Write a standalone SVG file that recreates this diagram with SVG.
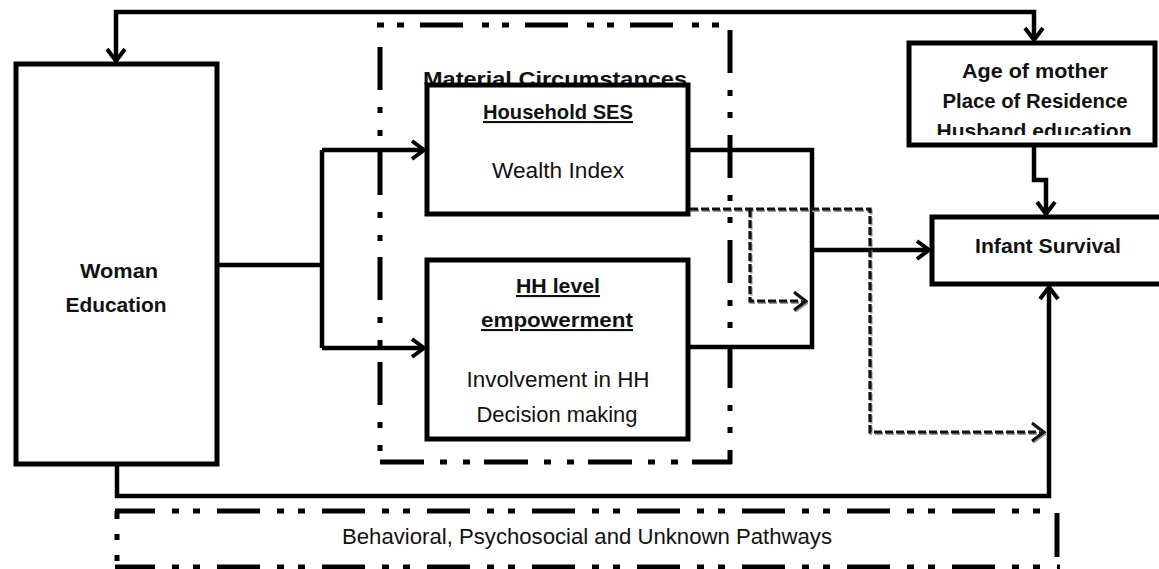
<svg xmlns="http://www.w3.org/2000/svg" width="1159" height="569" viewBox="0 0 1159 569">
<defs>
<style>
.box{fill:#fff;stroke:#000;stroke-width:5}
.dd{fill:none;stroke:#000;stroke-width:5}
.ln{fill:none;stroke:#000;stroke-width:4.5}
.dsh{fill:none;stroke:#111;stroke-width:3.2;stroke-dasharray:8 3}
.dshs{fill:none;stroke:#9a9a9a;stroke-width:3.2;stroke-dasharray:8 3}
.b{font-family:"Liberation Sans",Arial,sans-serif;font-weight:bold;font-size:21px;fill:#111;text-anchor:middle}
.r{font-family:"Liberation Sans",Arial,sans-serif;font-size:22px;fill:#111;text-anchor:middle}
.u{text-decoration:underline}
</style>
<marker id="arr" viewBox="0 0 16 22" refX="14" refY="11" markerWidth="16" markerHeight="22" markerUnits="userSpaceOnUse" orient="auto-start-reverse">
<path d="M2,2 L14,11 L2,20" fill="none" stroke="#000" stroke-width="4"/>
</marker>
<marker id="arrd" viewBox="0 0 16 22" refX="14" refY="11" markerWidth="16" markerHeight="22" markerUnits="userSpaceOnUse" orient="auto">
<path d="M3,3.5 L15,12.5 L3,21.5" fill="none" stroke="#9a9a9a" stroke-width="3"/>
<path d="M2,2 L14,11 L2,20" fill="none" stroke="#111" stroke-width="3"/>
</marker>
<clipPath id="ageclip"><rect x="909" y="45" width="246" height="90"/></clipPath>
</defs>
<rect width="1159" height="569" fill="#fff"/>

<g id="material-circumstances">
<line class="dd" x1="377" y1="25" x2="722" y2="25" stroke-dasharray="7 13 7 16 43 19"/>
<line class="dd" x1="730" y1="30" x2="730" y2="464" stroke-dasharray="43 17 6 16 6 17"/>
<line class="dd" x1="380" y1="462" x2="732" y2="462" stroke-dasharray="44 16 7 16 7 14"/>
<line class="dd" x1="380" y1="47" x2="380" y2="456" stroke-dasharray="43 17 6 17 6 16"/>
<text class="b" x="555" y="86" font-size="24" textLength="264" lengthAdjust="spacingAndGlyphs">Material Circumstances</text>
</g>

<g id="pathways">
<line class="dd" x1="115" y1="511" x2="1050" y2="511" stroke-dasharray="43 17 7 14 7 17" stroke-dashoffset="3"/>
<line class="dd" x1="115" y1="567" x2="1060" y2="567" stroke-dasharray="43 17 7 14 7 17" stroke-dashoffset="3"/>
<line class="dd" x1="117" y1="511" x2="117" y2="567" stroke-dasharray="8 15 6 15 6 100"/>
<line class="dd" x1="1057" y1="513" x2="1057" y2="557"/>
<text class="r" x="587" y="544" font-size="20" textLength="490" lengthAdjust="spacingAndGlyphs">Behavioral, Psychosocial and Unknown Pathways</text>
</g>

<g id="connectors">
<path class="ln" d="M116,61 V12 H1034 V40" marker-start="url(#arr)" marker-end="url(#arr)"/>
<path class="ln" d="M219,265 H322"/>
<path class="ln" d="M322,150 V348"/>
<path class="ln" d="M322,150 H424" marker-end="url(#arr)"/>
<path class="ln" d="M322,348 H424" marker-end="url(#arr)"/>
<path class="ln" d="M690,150 H812 V347 H690"/>
<path class="ln" d="M812,250 H929" marker-end="url(#arr)"/>
<path class="ln" d="M1034,147 V180 H1046 V214" marker-end="url(#arr)"/>
<path class="ln" d="M117,466 V496 H1049 V287" marker-end="url(#arr)"/>
<g transform="translate(1,1.5)">
<path class="dshs" d="M690,209 H870 V432 H1043"/>
<path class="dshs" d="M750,209 V301 H805"/>
</g>
<path class="dsh" d="M690,209 H870 V432 H1044" marker-end="url(#arrd)"/>
<path class="dsh" d="M750,209 V301 H806" marker-end="url(#arrd)"/>
</g>

<g id="woman-education">
<rect class="box" x="16" y="64" width="201" height="400"/>
<text class="b" x="119" y="278" textLength="78" lengthAdjust="spacingAndGlyphs">Woman</text>
<text class="b" x="116" y="312" textLength="101" lengthAdjust="spacingAndGlyphs">Education</text>
</g>

<g id="household-ses">
<rect class="box" x="427" y="85" width="261" height="129"/>
<text class="b u" x="558" y="119" textLength="150" lengthAdjust="spacingAndGlyphs">Household SES</text>
<text class="r" x="558" y="178" textLength="132" lengthAdjust="spacingAndGlyphs">Wealth Index</text>
</g>

<g id="hh-empowerment">
<rect class="box" x="427" y="260" width="261" height="179"/>
<text class="b u" x="558" y="293" textLength="84" lengthAdjust="spacingAndGlyphs">HH level</text>
<text class="b u" x="557" y="327" textLength="152" lengthAdjust="spacingAndGlyphs">empowerment</text>
<text class="r" x="558" y="387" textLength="183" lengthAdjust="spacingAndGlyphs">Involvement in HH</text>
<text class="r" x="557" y="422" textLength="161" lengthAdjust="spacingAndGlyphs">Decision making</text>
</g>

<g id="covariates">
<rect class="box" x="909" y="43" width="246" height="102"/>
<g clip-path="url(#ageclip)">
<text class="b" x="1035" y="78" textLength="146" lengthAdjust="spacingAndGlyphs">Age of mother</text>
<text class="b" x="1035" y="108" textLength="185" lengthAdjust="spacingAndGlyphs">Place of Residence</text>
<text class="b" x="1034" y="138" textLength="195" lengthAdjust="spacingAndGlyphs">Husband education</text>
</g>
</g>

<g id="infant-survival">
<rect class="box" x="932" y="217" width="240" height="67"/>
<text class="b" x="1048" y="253" textLength="146" lengthAdjust="spacingAndGlyphs">Infant Survival</text>
</g>
</svg>
